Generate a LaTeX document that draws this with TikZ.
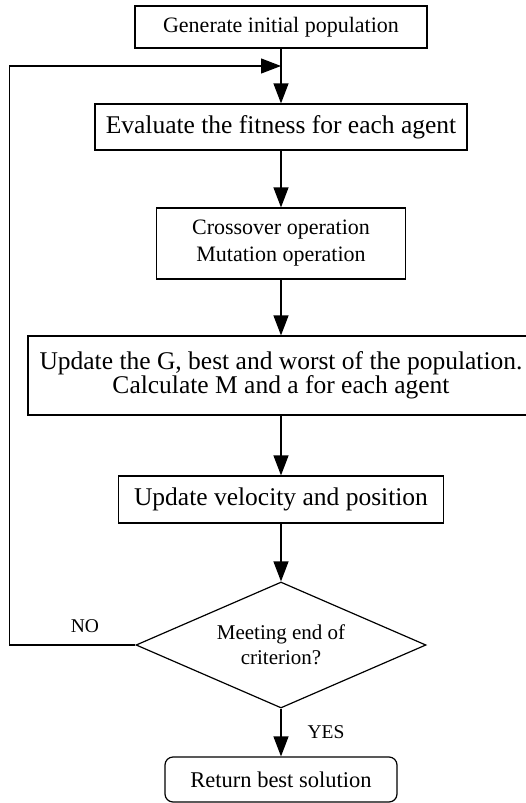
\documentclass[tikz,border=0pt]{standalone}
\usepackage{fontspec}
\setmainfont{Liberation Serif}
\usetikzlibrary{arrows.meta,shapes.geometric}

\begin{document}
\begin{tikzpicture}[x=1pt,y=-1pt,line width=1.2pt,
arr/.style={-{Triangle[length=20pt,width=15pt]}},
blk/.style n args={4}{draw,rectangle,align=center,inner sep=0pt,minimum width=#1pt,minimum height=#2pt,font=\fontsize{#3}{#4}\selectfont},
dia/.style={draw,diamond,aspect=2.3,inner sep=0pt,minimum width=290pt,minimum height=126pt,align=center,font=\fontsize{21}{25}\selectfont},
lbl/.style={inner sep=0pt,font=\fontsize{19.5}{22}\selectfont}]
\useasboundingbox (0,0) rectangle (526,803);
\node[blk={292}{42}{22}{26}] (gen) at (281,27) {Generate initial population};
\node[blk={372}{46}{25.5}{28}] (eval) at (281,127) {Evaluate the fitness for each agent};
\node[blk={249}{71}{22}{27}] (cross) at (281,243.5) {Crossover operation\\Mutation operation};
\node[blk={506}{79}{25.5}{23}] (upd) at (281,375.5) {Update the G, best and worst of the population.\\Calculate M and a for each agent};
\node[blk={325}{47}{25.5}{28}] (move) at (281,499.5) {Update velocity and position};
\node[dia] (dec) at (281,645) {Meeting end of\\criterion?};
\node[blk={232}{45}{22.5}{26},rounded corners=8pt] (ret) at (281,779.5) {Return best solution};
\coordinate (join) at (281,66);
\foreach \a/\b in {gen/eval,eval/cross,cross/upd,upd/move,move/dec}
   \draw[arr] (\a) -- (\b);
\draw[arr] (dec) -- node[lbl,right=26pt]{YES} (ret);
\draw[arr] (dec.west) -- node[lbl,above=12pt,pos=0.4]{NO} ++(-126,0) |- (join);
\end{tikzpicture}
\end{document}
